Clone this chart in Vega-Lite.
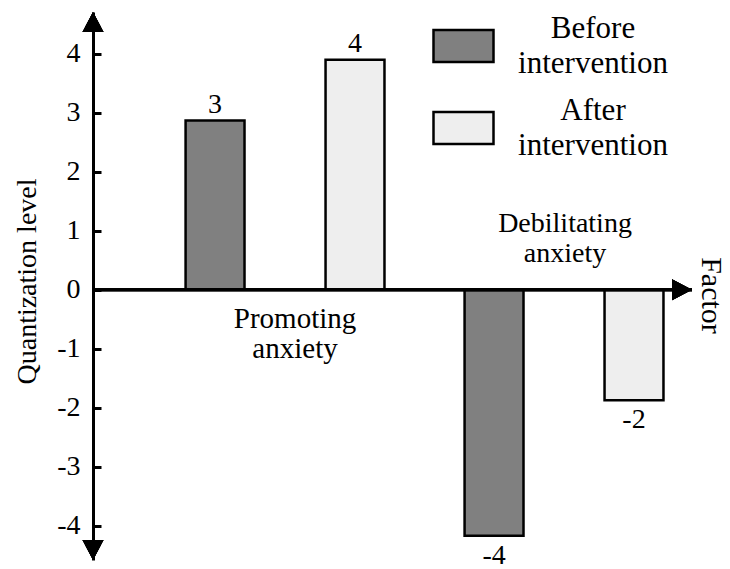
{
  "$schema": "https://vega.github.io/schema/vega-lite/v6.json",
  "width": 599,
  "height": 548,
  "autosize": {"type": "none"},
  "padding": {"left": 93, "top": 12, "right": 38, "bottom": 9},
  "background": "white",
  "config": {
    "view": {"stroke": null},
    "font": "Times New Roman, Liberation Serif, serif",
    "text": {"font": "Times New Roman, Liberation Serif, serif", "fontSize": 28, "color": "black"},
    "style": {"guide-label": {"lineHeight": 35}}
  },
  "data": {
    "values": [
      {"factor": "Promoting anxiety", "group": "Before intervention", "value": 2.87, "label": "3"},
      {"factor": "Promoting anxiety", "group": "After intervention", "value": 3.9, "label": "4"},
      {"factor": "Debilitating anxiety", "group": "Before intervention", "value": -4.17, "label": "-4"},
      {"factor": "Debilitating anxiety", "group": "After intervention", "value": -1.87, "label": "-2"}
    ]
  },
  "encoding": {
    "x": {
      "field": "factor",
      "type": "nominal",
      "sort": ["Promoting anxiety", "Debilitating anxiety"],
      "scale": {"paddingInner": 0.14, "paddingOuter": 0.1435, "align": 0.9},
      "axis": {
        "orient": "bottom",
        "labels": false,
        "ticks": false,
        "domain": false,
        "title": "Factor",
        "titleFont": "Times New Roman, Liberation Serif, serif",
        "titleFontSize": 30,
        "titleFontWeight": "normal",
        "titleColor": "black",
        "titleAngle": 90,
        "titleX": 617,
        "titleY": -265,
        "titleAlign": "center",
        "titleBaseline": "middle"
      }
    }
  },
  "layer": [
    {
      "mark": {"type": "bar", "stroke": "black", "strokeWidth": 2.5},
      "encoding": {
        "xOffset": {
          "field": "group",
          "type": "nominal",
          "sort": ["Before intervention", "After intervention"],
          "scale": {"paddingInner": 0.579, "paddingOuter": 0.1466}
        },
        "y": {
          "field": "value",
          "type": "quantitative",
          "scale": {"domain": [-4.58, 4.71], "nice": false, "zero": false},
          "axis": {
            "values": [-4, -3, -2, -1, 0, 1, 2, 3, 4],
            "labelExpr": "toString(datum.value)",
            "grid": false,
            "domainColor": "black",
            "domainWidth": 3,
            "tickColor": "black",
            "tickWidth": 3,
            "tickSize": -8,
            "labelPadding": 21,
            "labelFont": "Times New Roman, Liberation Serif, serif",
            "labelFontSize": 28,
            "labelColor": "black",
            "labelBaseline": "middle",
            "title": "Quantization level",
            "titleFont": "Times New Roman, Liberation Serif, serif",
            "titleFontSize": 28,
            "titleFontWeight": "normal",
            "titleColor": "black",
            "titleAngle": -90,
            "titleX": -66,
            "titleY": 269,
            "titleAlign": "center",
            "titleBaseline": "middle"
          }
        },
        "fill": {
          "field": "group",
          "type": "nominal",
          "sort": ["Before intervention", "After intervention"],
          "scale": {"range": ["#808080", "#eeeeee"]},
          "legend": {
            "orient": "none",
            "legendX": 339,
            "legendY": -15,
            "title": null,
            "padding": 0,
            "direction": "vertical",
            "symbolType": "M-1,0.05L1,0.05L1,1.1167L-1,1.1167Z",
            "symbolSize": 3600,
            "symbolStrokeColor": "black",
            "symbolStrokeWidth": 2.5,
            "symbolOpacity": 1,
            "labelFont": "Times New Roman, Liberation Serif, serif",
            "labelFontSize": 31,
            "labelColor": "black",
            "labelAlign": "center",
            "labelBaseline": "middle",
            "labelOffset": 98,
            "labelLimit": 400,
            "labelExpr": "split(datum.label, ' ')",
            "rowPadding": 0
          }
        }
      }
    },
    {
      "transform": [{"filter": "datum.value > 0"}],
      "mark": {"type": "text", "baseline": "alphabetic", "dy": -8, "fontSize": 28},
      "encoding": {
        "xOffset": {"field": "group", "type": "nominal", "sort": ["Before intervention", "After intervention"]},
        "y": {"field": "value", "type": "quantitative"},
        "text": {"field": "label"}
      }
    },
    {
      "transform": [{"filter": "datum.value < 0"}],
      "mark": {"type": "text", "baseline": "alphabetic", "dy": 28, "fontSize": 28},
      "encoding": {
        "xOffset": {"field": "group", "type": "nominal", "sort": ["Before intervention", "After intervention"]},
        "y": {"field": "value", "type": "quantitative"},
        "text": {"field": "label"}
      }
    },
    {
      "mark": {"type": "rule", "stroke": "black", "strokeWidth": 3},
      "encoding": {"x": null, "y": {"datum": 0}}
    },
    {
      "transform": [{"filter": "datum.factor == 'Promoting anxiety' && datum.group == 'Before intervention'"}],
      "mark": {"type": "text", "lineBreak": " ", "align": "center", "baseline": "alphabetic", "dx": 10, "fontSize": 29, "lineHeight": 30},
      "encoding": {"y": {"datum": -0.65}, "text": {"field": "factor"}}
    },
    {
      "transform": [{"filter": "datum.factor == 'Debilitating anxiety' && datum.group == 'Before intervention'"}],
      "mark": {"type": "text", "lineBreak": " ", "align": "center", "baseline": "alphabetic", "dx": 1, "fontSize": 28, "lineHeight": 30},
      "encoding": {"y": {"datum": 0.98}, "text": {"field": "factor"}}
    },
    {
      "mark": {"type": "point", "shape": "M0,0L1.05,2L-1.05,2Z", "size": 400, "filled": true, "fill": "black", "opacity": 1, "strokeWidth": 0},
      "encoding": {"x": {"value": 0}, "y": {"datum": 4.71}}
    },
    {
      "mark": {"type": "point", "shape": "M0,0L1.05,-2L-1.05,-2Z", "size": 400, "filled": true, "fill": "black", "opacity": 1, "strokeWidth": 0},
      "encoding": {"x": {"value": 0}, "y": {"datum": -4.58}}
    },
    {
      "mark": {"type": "point", "shape": "M0,0L-2,-1.05L-2,1.05Z", "size": 400, "filled": true, "fill": "black", "opacity": 1, "strokeWidth": 0},
      "encoding": {"x": {"value": "width"}, "y": {"datum": 0}}
    }
  ]
}
